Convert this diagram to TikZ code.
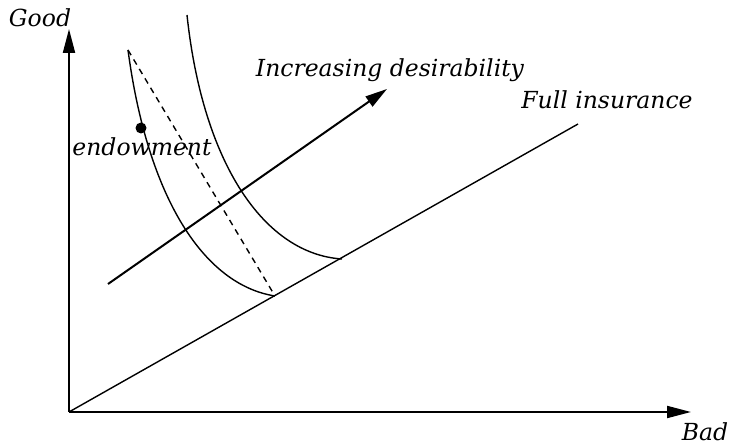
\documentclass[tikz,border=0pt]{standalone}
\usepackage{fontspec}
\setmainfont{DejaVu Serif}
\usetikzlibrary{positioning, arrows.meta}

\begin{document}
\begin{tikzpicture}[
  x=1pt, y=-1pt,
  lbl/.style = {font=\fontsize{23.5}{26}\selectfont\itshape, inner sep=1pt},
  axis/.style = {-{Triangle[length=24pt, width=12pt]}, line width=2pt},
  arr/.style = {-{Triangle[length=22pt, width=12pt]}, line width=2pt},
  curve/.style = {line width=1.4pt}
]
\useasboundingbox (0,0) rectangle (729,446);

% Points
\coordinate (O) at (69,412);
\coordinate (Ytip) at (69,29);
\coordinate (Xtip) at (691,412);
\coordinate (F) at (578,124);
\coordinate (Atop) at (128,50);
\coordinate (Abot) at (275,296);
\coordinate (Btop) at (187,15);
\coordinate (Bbot) at (342,259);
\coordinate (Dfrom) at (108,284);
\coordinate (Dto) at (387,89);

% Labels
\node[lbl] (good) at (40,18) {Good};
\node[lbl] (bad) at (705,432) {Bad};
\node[lbl] (full) at (607,100) {Full insurance};
\node[lbl] (incr) at (390,70) {Increasing desirability};
\node[circle, fill, inner sep=0pt, minimum size=11pt] (E) at (141,128) {};
\node[lbl] (endow) at (142,147) {endowment};

% Axes
\draw[axis] (O) -- (Ytip);
\draw[axis] (O) -- (Xtip);

% Full insurance line
\draw[curve] (O) -- (F);

% Indifference curves
\draw[curve] (Atop) .. controls (148,200) and (205,285) .. (Abot);
\draw[curve] (Btop) .. controls (203,165) and (265,254) .. (Bbot);
\draw[curve, dashed, dash pattern=on 6pt off 5pt] (Atop) -- (Abot);

% Direction of preference
\draw[arr] (Dfrom) -- (Dto);

\end{tikzpicture}
\end{document}
